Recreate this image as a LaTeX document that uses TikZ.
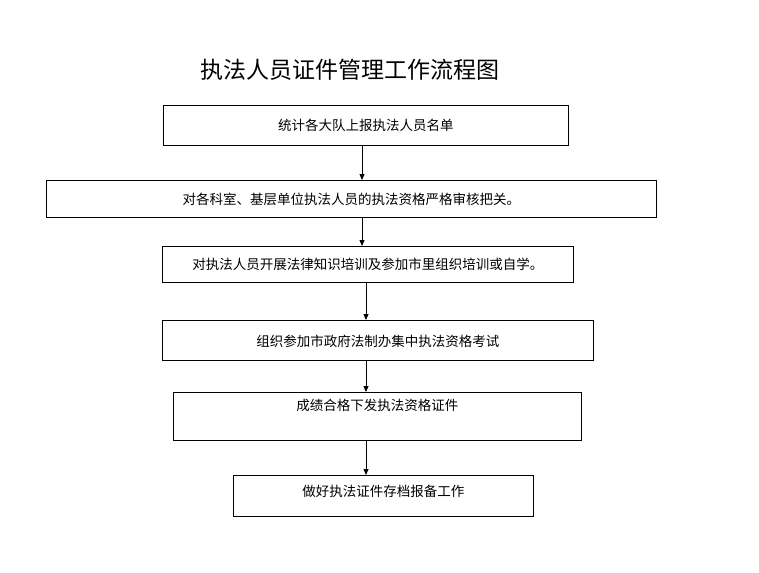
\documentclass[tikz,border=0pt]{standalone}
\usepackage{fontspec}
\setmainfont{Noto Sans CJK SC}
\usetikzlibrary{arrows.meta}
\tikzset{
	stepbox/.style = {draw, line width=0.8pt, inner sep=0pt, anchor=north west, font=\fontsize{13.5}{16}\selectfont},
	arr/.style     = {draw, line width=0.8pt, -{Triangle[length=6pt,width=5pt]}}
}
\begin{document}
\begin{tikzpicture}[x=1pt, y=-1pt]
	\useasboundingbox (0,0) rectangle (759,572);
	\node (title) at (350,70) {\fontsize{23}{27}\selectfont 执法人员证件管理工作流程图};
	% boxes
	\node [stepbox, minimum width=405pt, minimum height=40pt, text depth=1pt] (b1) at (163,105) {统计各大队上报执法人员名单};
	\node [stepbox, minimum width=610pt, minimum height=37pt] (b2) at (46,180) {对各科室、基层单位执法人员的执法资格严格审核把关。};
	\node [stepbox, minimum width=411pt, minimum height=36pt, text depth=1pt] (b3) at (162,246) {对执法人员开展法律知识培训及参加市里组织培训或自学。};
	\node [stepbox, minimum width=431pt, minimum height=40pt, text depth=0pt] (b4) at (162,320) {组织参加市政府法制办集中执法资格考试};
	\node [stepbox, minimum width=408pt, minimum height=48pt, align=center, text depth=24pt] (b5) at (173,392) {成绩合格下发执法资格证件};
	\node [stepbox, minimum width=300pt, minimum height=41pt, text depth=10pt] (b6) at (233,475) {做好执法证件存档报备工作};
	% arrows
	\draw [arr] (b1.south -| 362,0) -- (b2.north -| 362,0);
	\draw [arr] (b2.south -| 362,0) -- (b3.north -| 362,0);
	\draw [arr] (b3.south -| 366,0) -- (b4.north -| 366,0);
	\draw [arr] (b4.south -| 366,0) -- (b5.north -| 366,0);
	\draw [arr] (b5.south -| 366,0) -- (b6.north -| 366,0);
\end{tikzpicture}
\end{document}
